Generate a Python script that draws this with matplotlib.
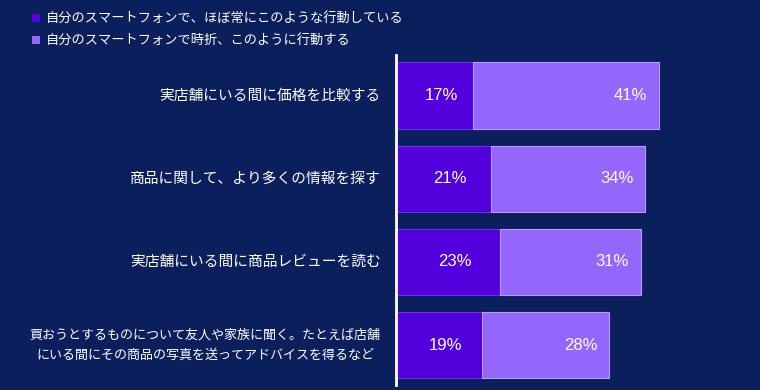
import matplotlib
matplotlib.use("Agg")
import matplotlib.pyplot as plt
from matplotlib.patches import Rectangle

plt.rcParams['font.family'] = ['Noto Sans CJK JP', 'DejaVu Sans']

# データ
categories = [
    "実店舗にいる間に価格を比較する",
    "商品に関して、より多くの情報を探す",
    "実店舗にいる間に商品レビューを読む",
    "買おうとするものについて友人や家族に聞く。たとえば店舗\nにいる間にその商品の写真を送ってアドバイスを得るなど",
]
always = [17, 21, 23, 19]
sometimes = [41, 34, 31, 28]
series_names = [
    "自分のスマートフォンで、ほぼ常にこのような行動している",
    "自分のスマートフォンで時折、このように行動する",
]

bg = "#0b1f5c"
c_dark = "#5200dc"
c_light = "#9466fb"

fig = plt.figure(figsize=(7.6, 3.9), dpi=100, facecolor=bg)
ax = fig.add_axes([396 / 760, 5 / 390, 300 / 760, 330 / 390])
ax.set_facecolor(bg)

y = list(range(len(categories)))
ax.barh(y, always, height=0.8, color=c_dark, edgecolor="#6a30f0", linewidth=0.8)
ax.barh(y, sometimes, left=always, height=0.8, color=c_light,
        edgecolor="#b49cff", linewidth=0.8)

for i in y:
    ax.text(always[i] / 2 + 1.5, i, f"{always[i]}%", color="white",
            ha="center", va="center", fontsize=12, family="Liberation Sans")
    end = always[i] + sometimes[i]
    ax.text(end - 2.6, i, f"{sometimes[i]}%", color="white",
            ha="right", va="center", fontsize=12, family="Liberation Sans")

ax.set_xlim(0, 300 / 4.53)
ax.set_ylim(3.48, -0.49)
ax.set_xticks([])
ax.set_yticks([])
for s in ["top", "right", "bottom"]:
    ax.spines[s].set_visible(False)
ax.spines["left"].set_color("white")
ax.spines["left"].set_linewidth(2)

# カテゴリラベル
for i, label in enumerate(categories):
    fs = 9.4 if "\n" in label else 10.6
    ax.annotate(label, xy=(0, i), xycoords=("axes fraction", "data"),
                xytext=(-11, 0), textcoords="offset points",
                ha="right", va="center", color="white", fontsize=fs,
                linespacing=1.65, multialignment="center")

# 凡例
for k, (name, col) in enumerate(zip(series_names, [c_dark, c_light])):
    ypos = 1 - (18 + 22 * k) / 390
    fig.patches.append(Rectangle((32 / 760, ypos - 4 / 390), 8 / 760, 8 / 390,
                                 transform=fig.transFigure, facecolor=col,
                                 edgecolor="none"))
    fig.text(46 / 760, ypos, name, color="white", fontsize=9.5,
             ha="left", va="center")

fig.savefig("out.png", dpi=100, facecolor=bg)
